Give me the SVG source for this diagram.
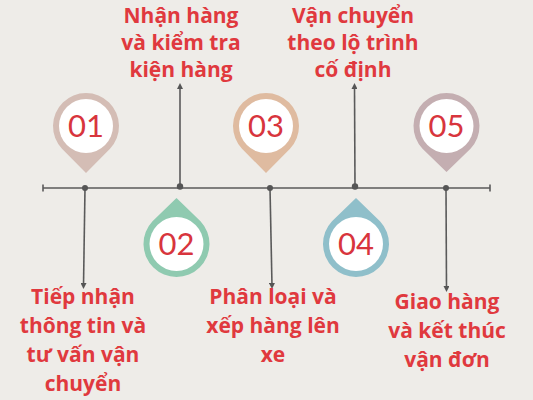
<svg xmlns="http://www.w3.org/2000/svg" width="533" height="400" viewBox="0 0 533 400">
<defs>
<marker id="arr" viewBox="0 0 10 10" refX="5" refY="5" markerWidth="6" markerHeight="6" orient="auto-start-reverse" markerUnits="userSpaceOnUse">
<path d="M0,0 L10,5 L0,10 Z" fill="#555"/>
</marker>
</defs>
<style>
.ln{stroke:#5a5a5a;stroke-width:1.6;fill:none}
.dot{fill:#555}
.lbl{font-family:"Open Sans","Liberation Sans",sans-serif;font-weight:700;font-size:21px;fill:#e0393e;text-anchor:middle}
.num{font-family:Lato,"Open Sans",sans-serif;font-weight:400;font-size:31px;fill:#d8353d;text-anchor:middle}
.inner{fill:#ffffff}
</style>
<rect width="533" height="400" fill="#eeece8"/>
<g id="connectors">
<line class="ln" x1="43" y1="188" x2="490" y2="188"/>
<line class="ln" x1="43" y1="184.5" x2="43" y2="191.5"/>
<line class="ln" x1="490" y1="184.5" x2="490" y2="191.5"/>
<line class="ln" x1="85" y1="188" x2="83.5" y2="286" marker-end="url(#arr)"/>
<line class="ln" x1="180" y1="188" x2="180" y2="86" marker-end="url(#arr)"/>
<line class="ln" x1="270" y1="188" x2="272" y2="286" marker-end="url(#arr)"/>
<line class="ln" x1="355" y1="188" x2="354.5" y2="86" marker-end="url(#arr)"/>
<line class="ln" x1="446" y1="188" x2="446.5" y2="289" marker-end="url(#arr)"/>
<circle class="dot" cx="85" cy="188" r="3"/>
<circle class="dot" cx="180" cy="186.5" r="3.2"/>
<circle class="dot" cx="270" cy="188" r="3"/>
<circle class="dot" cx="355" cy="186.5" r="3.2"/>
<circle class="dot" cx="446" cy="188" r="3"/>
</g>
<g id="node-01">
<path d="M62,148.7 L86,173 L110,148.7 A33,33 0 1,0 62,148.7 Z" fill="#d4bdb5"/>
<circle class="inner" cx="86" cy="126" r="27"/>
<text class="num" x="86" y="137">01</text>
</g>
<g id="node-02">
<path d="M152.5,221.3 L176.5,198 L200.5,221.3 A33,33 0 1,1 152.5,221.3 Z" fill="#8fcab0"/>
<circle class="inner" cx="176.5" cy="244" r="27"/>
<text class="num" x="176.5" y="255">02</text>
</g>
<g id="node-03">
<path d="M242,148.7 L266,173 L290,148.7 A33,33 0 1,0 242,148.7 Z" fill="#dfbba0"/>
<circle class="inner" cx="266" cy="126" r="27"/>
<text class="num" x="266" y="137">03</text>
</g>
<g id="node-04">
<path d="M332,221.3 L356,198 L380,221.3 A33,33 0 1,1 332,221.3 Z" fill="#8fbfca"/>
<circle class="inner" cx="356" cy="244" r="27"/>
<text class="num" x="356" y="255">04</text>
</g>
<g id="node-05">
<path d="M422.5,148.7 L446.5,172 L470.5,148.7 A33,33 0 1,0 422.5,148.7 Z" fill="#c4aeb1"/>
<circle class="inner" cx="446.5" cy="126" r="27"/>
<text class="num" x="446.5" y="137">05</text>
</g>
<g id="label-01">
<text class="lbl" x="83" y="304">Tiếp nhận</text>
<text class="lbl" x="83" y="333">thông tin và</text>
<text class="lbl" x="83" y="362">tư vấn vận</text>
<text class="lbl" x="83" y="391">chuyển</text>
</g>
<g id="label-02">
<text class="lbl" x="181" y="23">Nhận hàng</text>
<text class="lbl" x="181" y="50">và kiểm tra</text>
<text class="lbl" x="181" y="77">kiện hàng</text>
</g>
<g id="label-03">
<text class="lbl" x="273" y="304">Phân loại và</text>
<text class="lbl" x="273" y="333">xếp hàng lên</text>
<text class="lbl" x="273" y="362">xe</text>
</g>
<g id="label-04">
<text class="lbl" x="353" y="23">Vận chuyển</text>
<text class="lbl" x="353" y="50">theo lộ trình</text>
<text class="lbl" x="353" y="77">cố định</text>
</g>
<g id="label-05">
<text class="lbl" x="447" y="309">Giao hàng</text>
<text class="lbl" x="447" y="338">và kết thúc</text>
<text class="lbl" x="447" y="367">vận đơn</text>
</g>
</svg>
